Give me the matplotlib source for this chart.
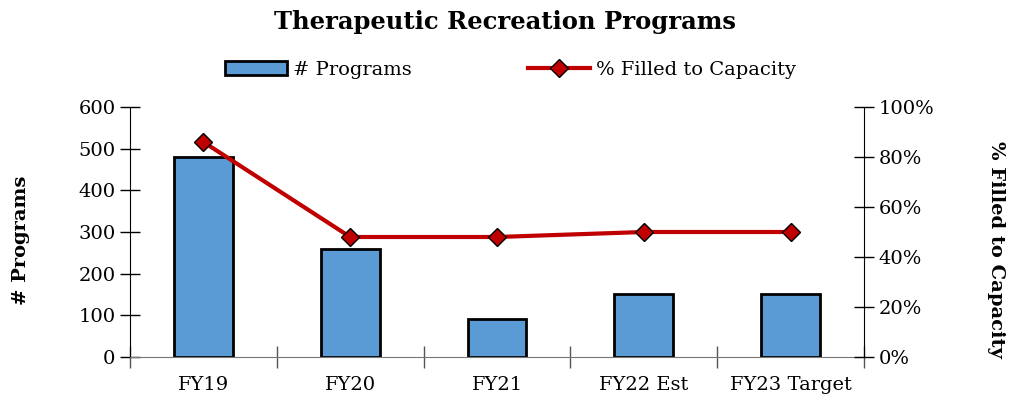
import numpy as np
import matplotlib.pyplot as plt
from matplotlib.ticker import PercentFormatter

plt.rcParams['font.family'] = ['DejaVu Serif']

categories = ['FY19', 'FY20', 'FY21', 'FY22 Est', 'FY23 Target']
programs = [480, 260, 92, 150, 150]
pct_filled = [0.86, 0.48, 0.48, 0.50, 0.50]

bar_color = '#5B9BD5'
line_color = '#C00000'

fig = plt.figure(figsize=(10.11, 3.99), dpi=100)
ax = fig.add_axes([0.1286, 0.1053, 0.726, 0.6265])
x = np.arange(len(categories))

bars = ax.bar(x, programs, width=0.4, color=bar_color, edgecolor='black',
              linewidth=2, label='# Programs', zorder=2)
ax.set_xlim(-0.5, len(categories) - 0.5)
ax.set_ylim(0, 600)
ax.set_yticks(np.arange(0, 601, 100))
ax.set_xticks(x)
ax.set_xticklabels(categories, fontsize=14)
ax.set_xticks(np.arange(-0.5, len(categories), 1), minor=True)
ax.tick_params(axis='x', which='major', length=0, pad=14)
ax.tick_params(axis='x', which='minor', direction='inout', length=16,
               color='#555555', width=1)
ax.tick_params(axis='y', direction='inout', length=14, labelsize=14,
               width=1)
ax.set_ylabel('# Programs', fontsize=14, fontweight='bold', va='center')
ax.yaxis.set_label_coords(-0.1485, 0.468)
for side in ['top', 'right']:
    ax.spines[side].set_visible(False)
ax.spines['bottom'].set_color('#777777')

ax2 = ax.twinx()
line, = ax2.plot(x, pct_filled, color=line_color, lw=3, marker='D',
                 markersize=9, markerfacecolor=line_color,
                 markeredgecolor='black', markeredgewidth=1,
                 label='% Filled to Capacity', zorder=3)
ax2.set_ylim(0, 1)
ax2.set_yticks(np.arange(0, 1.01, 0.2))
ax2.yaxis.set_major_formatter(PercentFormatter(1.0, decimals=0))
ax2.tick_params(axis='y', direction='inout', length=14, labelsize=14,
                width=1)
ax2.set_ylabel('% Filled to Capacity', fontsize=14, fontweight='bold',
               rotation=270, va='center')
ax2.yaxis.set_label_coords(1.18, 0.432)
for side in ['top', 'left', 'bottom']:
    ax2.spines[side].set_visible(False)

fig.suptitle('Therapeutic Recreation Programs', fontsize=17.5,
             fontweight='bold', y=0.975)
fig.legend(handles=[bars, line], loc='center', bbox_to_anchor=(0.505, 0.825),
           ncol=2, frameon=False, fontsize=14, columnspacing=6,
           handlelength=3.2, handletextpad=0.3)

fig.savefig('out.png', dpi=100)
